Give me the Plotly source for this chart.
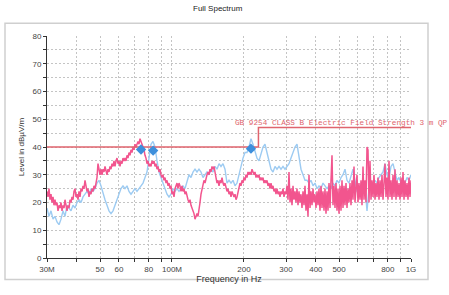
import numpy as np
import plotly.graph_objects as go

# ---------------- data ----------------
# Peak trace (pink), levels in dBuV/m on a log sweep 30 MHz .. 1 GHz
PINK_LEVELS = [
    24, 22, 25, 21, 23, 20, 22, 19, 21, 19,
    20, 17, 19, 18, 20, 17, 19, 18, 21, 19,
    17, 19, 18, 21, 20, 22, 21, 24, 25, 22,
    23, 21, 24, 22, 25, 24, 26, 25, 28, 26,
    24, 25, 22, 24, 23, 25, 24, 26, 25, 27,
    29, 34, 31, 30, 32, 30, 32, 31, 33, 31,
    30, 32, 31, 33, 32, 34, 33, 35, 33, 35,
    36, 34, 35, 33, 35, 34, 36, 35, 36, 35,
    37, 36, 38, 37, 39, 38, 40, 39, 41, 40,
    41, 42, 41, 43, 42, 41, 40, 39, 37, 36,
    34, 35, 33, 34, 33, 35, 34, 35, 33, 34,
    32, 33, 31, 32, 30, 29, 30, 28, 29, 27,
    28, 26, 27, 25, 26, 23, 24, 22, 25, 26,
    27, 25, 27, 26, 24, 26, 24, 25, 23, 24,
    22, 21, 20, 21, 19, 18, 17, 16, 14, 15,
    16, 15, 17, 20, 23, 25, 26, 28, 27, 29,
    30, 31, 30, 32, 31, 33, 32, 33, 30, 29,
    27, 28, 26, 28, 27, 29, 27, 26, 27, 25,
    24, 25, 23, 24, 22, 24, 23, 22, 23, 21,
    22, 24, 25, 27, 26, 28, 27, 29, 28, 30,
    29, 31, 30, 31, 30, 32, 31, 30, 31, 29,
    30, 29, 30, 28, 29, 28, 29, 27, 28, 27,
    28, 26, 27, 25, 27, 25, 26, 24, 25, 23,
    25, 23, 24, 22, 24, 23, 25, 22, 24, 23,
    26, 21, 31, 20, 25, 19, 26, 21, 24, 20,
    25, 19, 24, 20, 23, 18, 24, 19, 26, 17,
    23, 15, 30, 18, 24, 19, 25, 20, 23, 18,
    24, 19, 25, 17, 26, 18, 24, 17, 25, 16,
    24, 17, 27, 18, 28, 37, 19, 26, 18, 27,
    17, 25, 16, 26, 17, 28, 18, 26, 19, 27,
    18, 25, 20, 27, 19, 28, 21, 33, 20, 27,
    30, 20, 27, 21, 28, 19, 33, 21, 28, 20,
    40, 39, 20, 35, 21, 28, 22, 30, 21, 27,
    22, 29, 21, 28, 22, 30, 21, 27, 34, 22,
    29, 21, 35, 22, 28, 21, 30, 22, 32, 21,
    28, 22, 27, 21, 29, 22, 31, 21, 28, 22,
    27, 21, 29, 22, 28,
]

# Second trace (light blue)
BLUE_LEVELS = [
    18, 15, 17, 14, 15, 13, 12, 14, 17, 15,
    19, 18, 17, 19, 18, 20, 21, 20, 22, 23,
    24, 23, 25, 24, 25, 27, 28, 26, 23, 21,
    19, 17, 16, 17, 19, 21, 23, 25, 26, 25,
    26, 24, 23, 24, 25, 24, 25, 26, 27, 29,
    31, 36, 41, 42, 40, 35, 31, 29, 27, 25,
    23, 22, 23, 25, 24, 25, 24, 25, 26, 25,
    28, 30, 29, 31, 32, 31, 32, 31, 29, 30,
    31, 30, 32, 31, 33, 32, 34, 33, 34, 32,
    27, 28, 27, 28, 26, 27, 30, 34, 36, 38,
    38, 40, 43, 41, 38, 36, 35, 38, 40, 41,
    38, 34, 32, 31, 33, 32, 33, 32, 33, 32,
    33, 34, 36, 38, 40, 41, 37, 32, 30, 28,
    28, 27, 28, 26, 27, 25, 26, 25, 27, 26,
    25, 26, 25, 27, 26, 28, 27, 29, 30, 32,
    28, 27, 30, 32, 28, 24, 23, 26, 27, 26,
    17, 25, 27, 26, 28, 27, 29, 30, 31, 34,
    30, 29, 33, 34, 31, 28, 29, 27, 28, 27,
    29, 28, 30,
]

F_START_HZ = 30e6
F_STOP_HZ = 1e9

LIMIT_FREQ = [30e6, 230e6, 230e6, 1e9]
LIMIT_LEVEL = [40, 40, 47, 47]
LIMIT_NAME = "GB 9254 CLASS B Electric Field Strength 3 m QP"

MARKER_FREQ = [74.2e6, 83.4e6, 214e6]
MARKER_LEVEL = [39.1, 38.7, 39.4]

X_TICK_VALS = [30e6, 40e6, 50e6, 60e6, 70e6, 80e6, 90e6, 100e6,
               200e6, 300e6, 400e6, 500e6, 600e6, 700e6, 800e6, 900e6, 1e9]
X_TICK_TEXT = ["30M", "", "50", "60", "", "80", "", "100M",
               "200", "300", "400", "500", "", "", "800", "", "1G"]
Y_TICK_VALS = list(range(0, 81, 5))
Y_TICK_TEXT = [str(v) if v % 10 == 0 else "" for v in Y_TICK_VALS]

# sweep frequencies (log sweep of the receiver)
pink_freq = np.geomspace(F_START_HZ, F_STOP_HZ, len(PINK_LEVELS))
blue_freq = np.geomspace(F_START_HZ, F_STOP_HZ, len(BLUE_LEVELS))

PINK = "#f2558e"
BLUE = "#9dcbf2"
RED = "#e0646e"

fig = go.Figure()
fig.add_trace(go.Scatter(x=blue_freq, y=BLUE_LEVELS, mode="lines",
                         line=dict(color=BLUE, width=1.4), hoverinfo="skip"))
fig.add_trace(go.Scatter(x=pink_freq, y=PINK_LEVELS, mode="lines",
                         line=dict(color=PINK, width=1.5), hoverinfo="skip"))
fig.add_trace(go.Scatter(x=LIMIT_FREQ, y=LIMIT_LEVEL, mode="lines",
                         line=dict(color=RED, width=1.5), hoverinfo="skip"))
fig.add_trace(go.Scatter(x=MARKER_FREQ, y=MARKER_LEVEL, mode="markers",
                         marker=dict(symbol="diamond", size=8, color="#3d8fdc"),
                         hoverinfo="skip"))

L, R, T, B = 47, 38, 36, 32
W, H = 449, 295
pw, ph = W - L - R, H - T - B

fig.add_annotation(text=LIMIT_NAME, xref="paper", yref="y",
                   x=(233 - L) / pw, y=48.6, xanchor="left", yanchor="middle",
                   showarrow=False,
                   font=dict(family="Liberation Mono, Courier New, monospace",
                             size=7.7, color=RED))
fig.add_annotation(text="Full Spectrum", xref="paper", yref="paper",
                   x=(218 - L) / pw, y=(H - B - 8) / ph, xanchor="center",
                   yanchor="middle", showarrow=False,
                   font=dict(family="Liberation Sans, Arial", size=8, color="#222"))

# outer frame
fig.add_shape(type="rect", xref="paper", yref="paper",
              x0=(5 - L) / pw, x1=(428 - L) / pw,
              y0=(H - B - 285) / ph, y1=(H - B - 23) / ph,
              line=dict(color="#cfcfcf", width=1.5), layer="below")

fig.update_layout(
    width=W, height=H,
    margin=dict(l=L, r=R, t=T, b=B),
    paper_bgcolor="white", plot_bgcolor="white",
    showlegend=False,
    font=dict(family="Liberation Sans, Arial", size=8, color="#444"),
)
fig.update_xaxes(type="log", range=[np.log10(F_START_HZ), np.log10(F_STOP_HZ)],
                 tickvals=X_TICK_VALS, ticktext=X_TICK_TEXT,
                 showgrid=True, gridcolor="#c4c4c4", griddash="2px,2px", gridwidth=1,
                 showline=True, linecolor="#333", linewidth=1,
                 ticks="outside", ticklen=3, tickcolor="#333",
                 tickfont=dict(size=8, color="#444"),
                 title=dict(text="Frequency in Hz", font=dict(size=9, color="#333"),
                            standoff=3),
                 zeroline=False)
fig.update_yaxes(range=[0, 80], tickvals=Y_TICK_VALS, ticktext=Y_TICK_TEXT,
                 showgrid=True, gridcolor="#c4c4c4", griddash="2px,2px", gridwidth=1,
                 showline=True, linecolor="#333", linewidth=1,
                 ticks="outside", ticklen=3, tickcolor="#333",
                 tickfont=dict(size=8, color="#444"),
                 title=dict(text="Level in dBµV/m", font=dict(size=8, color="#333"),
                            standoff=6),
                 zeroline=False)

fig.write_html("out.html")
